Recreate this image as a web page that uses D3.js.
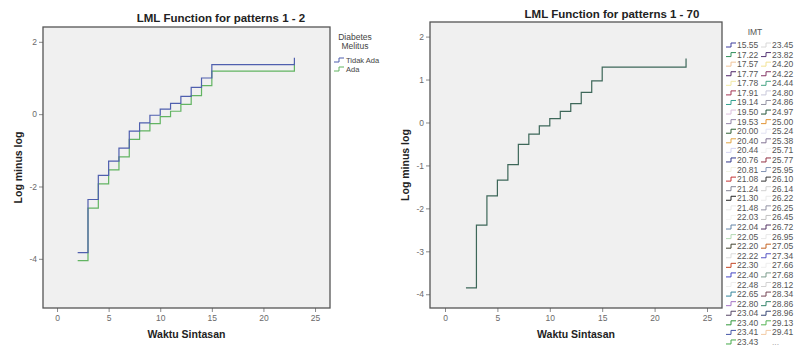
<!DOCTYPE html>
<html>
<head>
<meta charset="utf-8">
<script src="https://cdn.jsdelivr.net/npm/d3@7"></script>
<style>
  body { margin: 0; background: #fff; }
  svg { font-family: "Liberation Sans", Arial, sans-serif; display: block; }
</style>
</head>
<body>
<div id="chart"></div>
<script>
// event times (Waktu Sintasan) where the step function changes
const times = [2, 3, 4, 5, 6, 7, 8, 9, 10, 11, 12, 13, 14, 15, 23];

// panel 1 : Diabetes Melitus
const tidakAda = [-3.83, -2.36, -1.69, -1.30, -0.94, -0.47, -0.24, -0.03, 0.14, 0.30, 0.49, 0.74, 1.00, 1.37, 1.56];
const ada      = [-4.05, -2.60, -1.93, -1.54, -1.18, -0.70, -0.46, -0.26, -0.07, 0.08, 0.27, 0.51, 0.79, 1.19, 1.40];

// panel 2 : all patterns (IMT), the lines sit on top of each other
const allPatterns = [-3.85, -2.39, -1.71, -1.34, -0.98, -0.51, -0.27, -0.08, 0.09, 0.26, 0.44, 0.70, 0.97, 1.29, 1.49];

const xTicks = [0, 5, 10, 15, 20, 25];
const yTicksLeft = [-4, -2, 0, 2];
const yTicksRight = [-4, -3, -2, -1, 0, 1, 2];

const dmLabels = ["Tidak Ada", "Ada"];
const dmColors = ["#4f5fae", "#62b462"];

const imtCol1 = ["15.55","17.22","17.57","17.77","17.78","17.91","19.14","19.50","19.53","20.00","20.40","20.44",
  "20.76","20.81","21.08","21.24","21.30","21.48","22.03","22.04","22.05","22.20","22.22","22.30","22.40","22.48",
  "22.65","22.80","23.04","23.40","23.41","23.43"];
const imtCol2 = ["23.45","23.82","24.20","24.22","24.44","24.80","24.86","24.97","25.00","25.24","25.38","25.71",
  "25.77","25.95","26.10","26.14","26.22","26.25","26.45","26.72","26.95","27.05","27.34","27.66","27.68","28.12",
  "28.34","28.86","28.96","29.13","29.41","..."];
const imtColors1 = ["#3d3d9c","#2f8f5a","#f0c49a","#4e2466","#f2e9a4","#a43452","#32a08e","#dcc0dc","#9484a6",
  "#2f5f33","#e2a444","#d4d4f2","#33378a","#f2f2e4","#c43232","#848496","#222222","#e8e8e8","#f4f4f4","#6484a6",
  "#b4dab4","#42422e","#dcdcdc","#c44422","#4444c4","#eeeeee","#32849a","#a474c4","#544464","#32963a","#4454a6","#44a848"];
const imtColors2 = ["#d8d8d8","#543474","#f2e294","#843464","#44a484","#c8c8da","#9494a4","#22543a","#e29434",
  "#e2e2f2","#847494","#f0f0f0","#943444","#8494b4","#333333","#d2d2d2","#eaeaea","#9494a4","#c2c2c2","#543464",
  "#e8e8e8","#c46424","#5454c4","#eeeeee","#7c9c8c","#d2d2d2","#744454","#32846a","#344474","#54b454","#f2caa4",null];

const W = 797, H = 354;
const svg = d3.select("#chart").append("svg")
  .attr("width", W).attr("height", H);

svg.append("rect").attr("width", W).attr("height", H).attr("fill", "#fff");

function drawPanel(cfg) {
  const x = d3.scaleLinear().domain(cfg.xDomain).range([cfg.left, cfg.right]);
  const y = d3.scaleLinear().domain(cfg.yDomain).range([cfg.bottom, cfg.top]);

  const g = svg.append("g");

  g.append("rect")
    .attr("x", cfg.left).attr("y", cfg.top)
    .attr("width", cfg.right - cfg.left).attr("height", cfg.bottom - cfg.top)
    .attr("fill", "#f0f0f0");

  // axes (plain hyphen minus like the original)
  const fmt = d => String(d);
  const xAxis = d3.axisBottom(x).tickValues(xTicks).tickFormat(fmt).tickSize(4).tickPadding(3);
  const yAxis = d3.axisLeft(y).tickValues(cfg.yTicks).tickFormat(fmt).tickSize(4).tickPadding(2);

  const gx = g.append("g").attr("transform", "translate(0," + cfg.bottom + ")").call(xAxis);
  const gy = g.append("g").attr("transform", "translate(" + cfg.left + ",0)").call(yAxis);
  [gx, gy].forEach(a => {
    a.select(".domain").remove();
    a.selectAll(".tick line").attr("stroke", "#8a8a8a");
    a.selectAll(".tick text").attr("fill", "#6a6a6a").attr("font-size", 8.5);
  });

  // step lines
  const line = d3.line()
    .x((d, i) => x(times[i]))
    .y(d => y(d))
    .curve(d3.curveStepAfter);

  cfg.series.forEach(s => {
    g.append("path")
      .datum(s.values)
      .attr("fill", "none")
      .attr("stroke", s.color)
      .attr("stroke-width", 1.2)
      .attr("d", line);
  });

  // frame
  g.append("rect")
    .attr("x", cfg.left).attr("y", cfg.top)
    .attr("width", cfg.right - cfg.left).attr("height", cfg.bottom - cfg.top)
    .attr("fill", "none").attr("stroke", "#555").attr("stroke-width", 1.3);

  // titles
  g.append("text")
    .attr("x", cfg.titleX).attr("y", cfg.titleY)
    .attr("text-anchor", "middle")
    .attr("font-weight", "bold").attr("font-size", 11.5).attr("fill", "#222")
    .text(cfg.title);

  g.append("text")
    .attr("x", (cfg.left + cfg.right) / 2).attr("y", 338)
    .attr("text-anchor", "middle")
    .attr("font-weight", "bold").attr("font-size", 10.5).attr("fill", "#222")
    .text("Waktu Sintasan");

  g.append("text")
    .attr("transform", "translate(" + cfg.yLabelX + "," + ((cfg.top + cfg.bottom) / 2) + ") rotate(-90)")
    .attr("text-anchor", "middle")
    .attr("font-weight", "bold").attr("font-size", 10.5).attr("fill", "#222")
    .text("Log minus log");
}

drawPanel({
  left: 43, right: 330, top: 27, bottom: 308,
  xDomain: [-1.36, 26.45], yDomain: [-5.36, 2.41],
  yTicks: yTicksLeft,
  title: "LML Function for patterns 1 - 2", titleX: 221, titleY: 22,
  yLabelX: 22,
  series: [
    { values: ada, color: dmColors[1] },
    { values: tidakAda, color: dmColors[0] }
  ]
});

drawPanel({
  left: 430, right: 722, top: 22, bottom: 308,
  xDomain: [-1.43, 26.43], yDomain: [-4.32, 2.34],
  yTicks: yTicksRight,
  title: "LML Function for patterns 1 - 70", titleX: 612, titleY: 18,
  yLabelX: 409,
  series: [
    { values: allPatterns, color: "#3d6759" }
  ]
});

// step shaped legend sample
function sample(g, x0, yc, color) {
  g.append("path")
    .attr("d", `M${x0},${yc + 2}H${x0 + 5}V${yc - 2}H${x0 + 10}`)
    .attr("fill", "none").attr("stroke", color).attr("stroke-width", 1);
}

// legend: Diabetes Melitus
const leg1 = svg.append("g").attr("font-size", 8.5).attr("fill", "#444");
leg1.append("text").attr("x", 355).attr("y", 40).attr("text-anchor", "middle").text("Diabetes");
leg1.append("text").attr("x", 355).attr("y", 49).attr("text-anchor", "middle").text("Melitus");
dmLabels.forEach((lab, i) => {
  const yc = 60 + i * 9;
  sample(leg1, 334, yc, dmColors[i]);
  leg1.append("text").attr("x", 346).attr("y", yc + 3).attr("font-size", 7.5).text(lab);
});

// legend: IMT
const leg2 = svg.append("g").attr("font-size", 8.5).attr("fill", "#555");
leg2.append("text").attr("x", 755).attr("y", 35).attr("text-anchor", "middle").text("IMT");
const rowY = i => 45 + i * 9.58;
imtCol1.forEach((lab, i) => {
  sample(leg2, 726, rowY(i), imtColors1[i]);
  leg2.append("text").attr("x", 737).attr("y", rowY(i) + 3).text(lab);
});
imtCol2.forEach((lab, i) => {
  if (imtColors2[i]) sample(leg2, 761, rowY(i), imtColors2[i]);
  leg2.append("text").attr("x", 772).attr("y", rowY(i) + 3)
    .attr("fill", lab === "..." ? "#aaa" : "#555").text(lab);
});
</script>
</body>
</html>
